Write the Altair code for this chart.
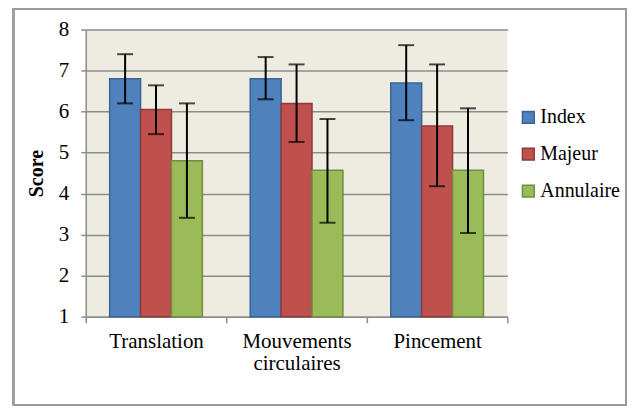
import altair as alt
import pandas as pd

categories = ["Translation", "Mouvements\ncirculaires", "Pincement"]
fingers = ["Index", "Majeur", "Annulaire"]
means = {
    "Index": [6.80, 6.80, 6.70],
    "Majeur": [6.05, 6.20, 5.65],
    "Annulaire": [4.80, 4.57, 4.57],
}
err_low = {
    "Index": [6.20, 6.30, 5.79],
    "Majeur": [5.45, 5.26, 4.18],
    "Annulaire": [3.41, 3.29, 3.04],
}
err_high = {
    "Index": [7.40, 7.33, 7.62],
    "Majeur": [6.64, 7.15, 7.15],
    "Annulaire": [6.20, 5.82, 6.08],
}
fill_colors = ["#4F81BD", "#C0504D", "#9BBB59"]
stroke_colors = ["#3A6496", "#8E3B39", "#738C42"]

rows = []
for f in fingers:
    for i, c in enumerate(categories):
        rows.append({"cat": c, "Finger": f, "mean": means[f][i],
                     "lo": err_low[f][i], "hi": err_high[f][i]})
df = pd.DataFrame(rows)

FONT = "serif"
W, H = 423, 288

x = alt.X("cat:N", sort=categories, title=None,
          scale=alt.Scale(paddingInner=0, paddingOuter=0),
          axis=alt.Axis(labelExpr="split(datum.label, '\\n')", labelAngle=0,
                        tickBand="extent", tickSize=6, tickColor="#8c8c8c",
                        domainColor="#8c8c8c", domainWidth=1.5, tickWidth=1.5,
                        labelFont=FONT, labelFontSize=21, labelColor="black",
                        labelPadding=8, labelLineHeight=22, grid=False))
xo = alt.XOffset("Finger:N", sort=fingers,
                 scale=alt.Scale(paddingInner=0, paddingOuter=0.774))

frame = alt.Chart(df).mark_rect(fill=None, stroke="#9a9a9a", strokeWidth=1.5, clip=False).encode(
    x=alt.value(-72.5), x2=alt.value(542), y=alt.value(-20.5), y2=alt.value(376.5)
)

bars = alt.Chart(df).mark_bar(strokeWidth=1.5).encode(
    x=x, xOffset=xo,
    y=alt.Y("mean:Q", title="Score",
            scale=alt.Scale(domain=[1, 8], nice=False, zero=False),
            axis=alt.Axis(values=[1, 2, 3, 4, 5, 6, 7, 8], format="d",
                          grid=True, gridColor="#8c8c8c", gridWidth=1.5,
                          domainColor="#8c8c8c", domainWidth=1.5,
                          tickColor="#8c8c8c", tickWidth=1.5, tickSize=5,
                          labelFont=FONT, labelFontSize=21, labelColor="black",
                          labelPadding=12, titleFont=FONT, titleFontSize=20,
                          titleFontWeight="bold", titleColor="black",
                          titlePadding=12)),
    y2=alt.datum(1),
    fill=alt.Fill("Finger:N", sort=fingers,
                  scale=alt.Scale(domain=fingers, range=fill_colors),
                  legend=alt.Legend(title=None)),
    stroke=alt.Stroke("Finger:N", sort=fingers,
                      scale=alt.Scale(domain=fingers, range=stroke_colors),
                      legend=alt.Legend(title=None)),
)

rules = alt.Chart(df).mark_rule(color="black", strokeWidth=2).encode(
    x=x, xOffset=xo, y="lo:Q", y2="hi:Q"
)
caps_lo = alt.Chart(df).mark_tick(color="black", thickness=2, size=16).encode(
    x=x, xOffset=xo, y="lo:Q"
)
caps_hi = alt.Chart(df).mark_tick(color="black", thickness=2, size=16).encode(
    x=x, xOffset=xo, y="hi:Q"
)

chart = alt.layer(bars, rules, caps_lo, caps_hi, frame).properties(
    width=W, height=H,
    autosize=alt.AutoSizeParams(type="none"),
    padding={"left": 78, "top": 21, "right": 120, "bottom": 90},
    background="white",
).configure(font=FONT).configure_view(stroke=None, fill="#EEECE1").configure_legend(
    orient="none", legendX=434, legendY=78,
    symbolType="square", symbolSize=140, symbolStrokeWidth=1.5,
    labelFont=FONT, labelFontSize=20, labelColor="black",
    rowPadding=17, labelOffset=2, labelLimit=200,
)

chart.save("out.html", embed_options={"renderer": "svg", "actions": False})
